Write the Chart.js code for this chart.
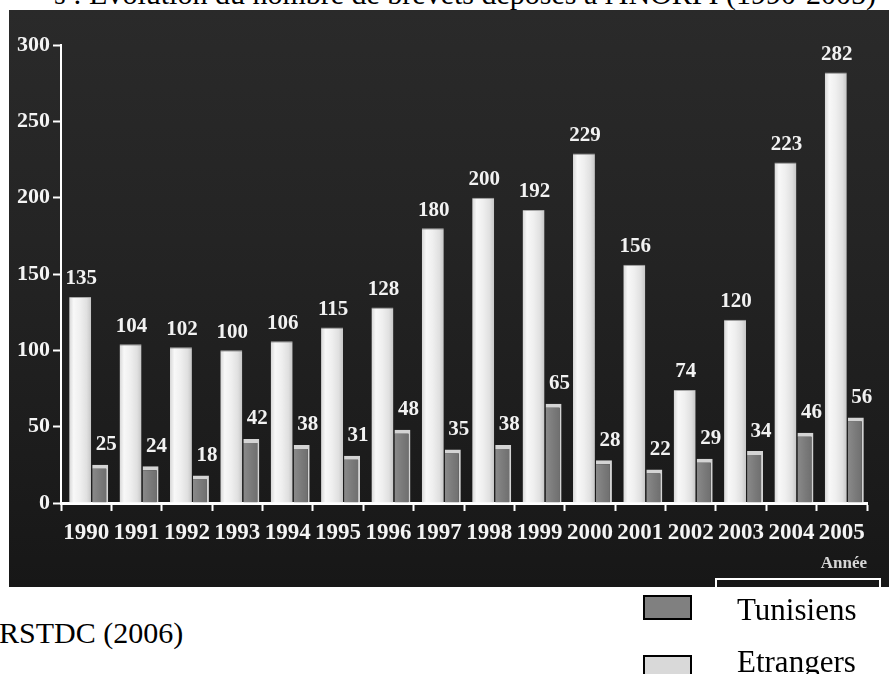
<!DOCTYPE html>
<html>
<head>
<meta charset="utf-8">
<script src="https://cdn.jsdelivr.net/npm/chart.js@4/dist/chart.umd.min.js"></script>
<style>
  html, body { margin: 0; padding: 0; width: 889px; height: 674px; overflow: hidden; background: #fff; }
  body { position: relative; font-family: "Liberation Serif", "Times New Roman", serif; color: #000; }
  #title { position: absolute; right: 13px; top: -21px; font-size: 30px; line-height: 30px; white-space: nowrap; }
  #panel { position: absolute; left: 9px; top: 10px; width: 880px; height: 577px;
           background: linear-gradient(#2a2a2a, #242424 40%, #171717); }
  #panel canvas { position: absolute; left: 0; top: 0; }
  #legendFrame { position: absolute; left: 715px; top: 578px; width: 166px; height: 30px;
                 border: 2px solid #fff; border-bottom: none; box-sizing: border-box; }
  #source { position: absolute; left: -1px; top: 618px; font-size: 30px; line-height: 30px; white-space: nowrap; }
  .swatch { position: absolute; left: 643px; width: 45px; height: 21px; border: 2px solid #000; }
  .legText { position: absolute; left: 737px; font-size: 31px; line-height: 31px; white-space: nowrap; }
</style>
</head>
<body>
<div id="title">s : Évolution du nombre de brevets déposés à l'INORPI (1990-2005)</div>
<div id="panel"><canvas id="chart" width="880" height="577"></canvas></div>
<div id="legendFrame"></div>
<div id="source">RSTDC (2006)</div>
<div class="swatch" id="swT" style="top:595px;"></div>
<div class="legText" style="top:594px;">Tunisiens</div>
<div class="swatch" id="swE" style="top:655px;"></div>
<div class="legText" style="top:646px;">Etrangers</div>

<script>
// Brevets déposés par année
const years = ['1990', '1991', '1992', '1993', '1994', '1995', '1996', '1997',
               '1998', '1999', '2000', '2001', '2002', '2003', '2004', '2005'];
const etrangers = [135, 104, 102, 100, 106, 115, 128, 180, 200, 192, 229, 156, 74, 120, 223, 282];
const tunisiens = [25, 24, 18, 42, 38, 31, 48, 35, 38, 65, 28, 22, 29, 34, 46, 56];
const yTickValues = [0, 50, 100, 150, 200, 250, 300];

const LEGEND_TUN = '#808080';
const LEGEND_ETR = '#d9d9d9';
document.getElementById('swT').style.background = LEGEND_TUN;
document.getElementById('swE').style.background = LEGEND_ETR;

// Bar geometry inside each year slot (light bar left, dark bar right)
const GEO_ETR = { cat: 0.477, bar: 1.83, idx: 0 };
const GEO_TUN = { cat: 1.112, bar: 0.571, idx: 1 };

function barSpan(chart, i, geo) {
  const xs = chart.scales.x;
  const c = xs.getPixelForValue(i);
  const cw = xs.width / years.length;
  const size = cw * geo.cat;
  const chunk = size / 2;
  const center = c - size / 2 + chunk * geo.idx + chunk / 2;
  const w = chunk * geo.bar;
  return [center - w / 2, center + w / 2];
}

function cylinderFill(geo, stops) {
  return (context) => {
    const chart = context.chart;
    if (!chart.scales || !chart.scales.x || context.dataIndex === undefined) return stops[0][1];
    const [x0, x1] = barSpan(chart, context.dataIndex, geo);
    if (!isFinite(x0) || !isFinite(x1)) return stops[0][1];
    const g = chart.ctx.createLinearGradient(x0, 0, x1, 0);
    stops.forEach(([p, c]) => g.addColorStop(p, c));
    return g;
  };
}

const SERIF = '"Liberation Serif", "Times New Roman", serif';

// Value written above every bar
const valueLabels = {
  id: 'valueLabels',
  afterDatasetsDraw(chart, args, opts) {
    const ctx = chart.ctx;
    ctx.save();
    ctx.font = 'bold 21px ' + SERIF;
    ctx.fillStyle = '#f2f2f2';
    ctx.textAlign = 'center';
    ctx.textBaseline = 'middle';
    chart.data.datasets.forEach((ds, di) => {
      const off = opts.offsets[di];
      chart.getDatasetMeta(di).data.forEach((bar, i) => {
        ctx.fillText(String(ds.data[i]), bar.x + off.dx, bar.y + off.dy);
      });
    });
    ctx.restore();
  }
};

new Chart(document.getElementById('chart'), {
  type: 'bar',
  data: {
    labels: years,
    datasets: [
      {
        label: 'Etrangers',
        data: etrangers,
        backgroundColor: cylinderFill(GEO_ETR, [[0, '#d6d6d6'], [0.2, '#f8f8f8'], [0.5, '#efefef'], [0.8, '#e0e0e0'], [1, '#c6c6c6']]),
        borderColor: '#a9a9a9',
        borderWidth: { top: 1, left: 0, right: 0, bottom: 0 },
        borderSkipped: false,
        categoryPercentage: GEO_ETR.cat,
        barPercentage: GEO_ETR.bar
      },
      {
        label: 'Tunisiens',
        data: tunisiens,
        backgroundColor: cylinderFill(GEO_TUN, [[0, '#8a8a8a'], [0.5, '#7a7a7a'], [1, '#6c6c6c']]),
        borderColor: '#d4d4d4',
        borderWidth: { top: 4, left: 0, right: 2, bottom: 0 },
        borderSkipped: false,
        categoryPercentage: GEO_TUN.cat,
        barPercentage: GEO_TUN.bar
      }
    ]
  },
  options: {
    responsive: false,
    animation: false,
    layout: { padding: { top: 35, right: 22, bottom: 0, left: 0 } },
    plugins: {
      legend: { display: false },
      tooltip: { enabled: false },
      valueLabels: { offsets: [{ dx: 1, dy: -18 }, { dx: 6, dy: -20 }] }
    },
    scales: {
      x: {
        offset: true,
        border: { display: true, color: '#ffffff', width: 3 },
        grid: { display: true, offset: true, drawOnChartArea: false, drawTicks: true,
                tickLength: 8, tickColor: '#ffffff', tickWidth: 2, color: '#ffffff' },
        ticks: { color: '#f4f4f4', font: { family: SERIF, size: 23, weight: 'bold' },
                 padding: 8, autoSkip: false, maxRotation: 0, minRotation: 0 },
        title: { display: true, text: 'Année', align: 'end', color: '#d6d6d6',
                 font: { family: SERIF, size: 17, weight: 'bold' }, padding: { top: 4, bottom: 13 } },
        afterFit(scale) { scale.height = 84; }
      },
      y: {
        min: 0,
        max: 300,
        border: { display: true, color: '#ffffff', width: 2 },
        grid: { display: true, drawOnChartArea: false, drawTicks: true,
                tickLength: 8, tickColor: '#ffffff', tickWidth: 2, color: '#ffffff' },
        ticks: { color: '#f4f4f4', font: { family: SERIF, size: 22, weight: 'bold' }, padding: 3 },
        afterBuildTicks(scale) { scale.ticks = yTickValues.map(v => ({ value: v })); },
        afterFit(scale) { scale.width = 52; }
      }
    }
  },
  plugins: [valueLabels]
});
</script>
</body>
</html>
